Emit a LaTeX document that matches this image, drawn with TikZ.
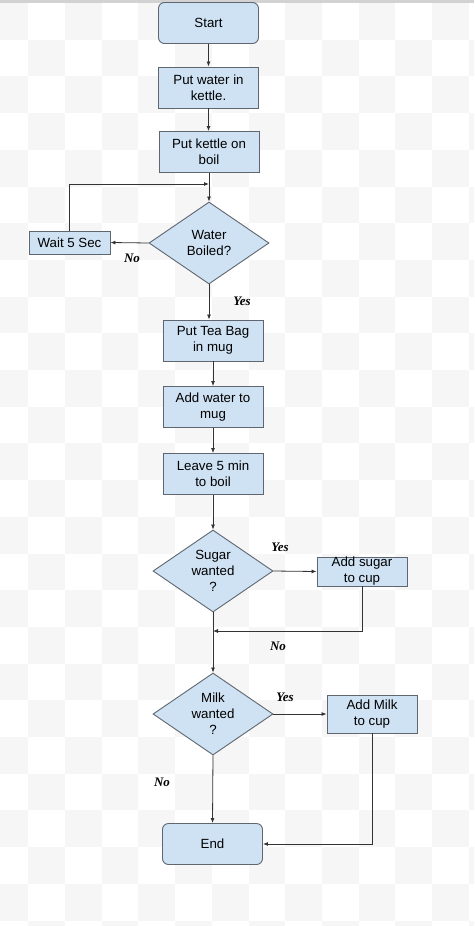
\documentclass[tikz,border=0pt]{standalone}
\usepackage{fontspec}
\setsansfont{Liberation Sans}
\newfontfamily\lblfont{Liberation Serif}
\usetikzlibrary{arrows.meta,shapes.geometric}

\definecolor{boxfill}{HTML}{CFE2F3}
\definecolor{boxline}{HTML}{5F6670}
\definecolor{wire}{HTML}{333333}
\definecolor{checker}{HTML}{F6F6F6}

\tikzset{
	stepbox/.style={draw=boxline, fill=boxfill, line width=0.9pt, minimum width=100pt, minimum height=41pt,
		inner sep=0pt, align=center, font=\sffamily\fontsize{13.3}{16}\selectfont},
	termbox/.style={stepbox, rounded corners=6pt},
	decision/.style={stepbox, diamond, aspect=1.46, minimum width=120pt, minimum height=82pt},
	answer/.style={font=\lblfont\bfseries\itshape\fontsize{13}{15}\selectfont, inner sep=0pt},
	flow/.style={draw=wire, line width=0.8pt, -{Latex[length=5pt,width=4pt]}}
}

\begin{document}
\begin{tikzpicture}[x=1pt,y=-1pt]
		\useasboundingbox (0,0) rectangle (474,926);
		
		% background
		\begin{scope}
			\clip (0,0) rectangle (474,926);
			\foreach \i in {0,...,13}{
				\foreach \j in {0,...,25}{
					\pgfmathtruncatemacro\parity{mod(\i+\j,2)}
					\ifnum\parity=0 \fill[checker] (-8.4+36.7*\i,3+36.7*\j) rectangle ++(36.7,36.7);\fi
				}
			}
			\fill[gray!35] (0,0) rectangle (474,2.5);
		\end{scope}
		
		\node[termbox] (start) at (208.5,23) {Start};
		\node[stepbox] (water) at (208.5,87.5) {Put water in\\kettle.};
		\node[stepbox] (kettle) at (209,152) {Put kettle on\\boil};
		\node[decision] (boiled) at (209,243) {Water\\Boiled?};
		\node[stepbox, minimum width=81pt, minimum height=23pt] (wait) at (69.5,242.5) {Wait 5 Sec};
		\node[stepbox] (teabag) at (213,340.5) {Put Tea Bag\\in mug};
		\node[stepbox] (addwater) at (213,407) {Add water to\\mug};
		\node[stepbox] (leave) at (213,474) {Leave 5 min\\to boil};
		\node[decision] (sugar) at (213,571) {Sugar\\wanted\\?};
		\node[stepbox, minimum width=90pt, minimum height=29pt] (addsugar) at (362,571.5) {Add sugar\\to cup};
		\node[decision] (milk) at (213,714) {Milk\\wanted\\?};
		\node[stepbox, minimum width=90pt, minimum height=38pt] (addmilk) at (372,714) {Add Milk\\to cup};
		\node[termbox] (end) at (212.5,844) {End};
		
		\coordinate (loop) at (209,184);
		\coordinate (merge) at (213,631);
		
		\draw[flow] (start) -- (water);
		\draw[flow] (water) -- (water|-kettle.north);
		\draw[flow] (kettle) -- (boiled);
		\draw[flow] (boiled.west) -- (wait.east);
		\draw[flow] (wait.north) |- (loop);
		\draw[flow] (boiled.south) -- (boiled.south|-teabag.north);
		\draw[flow] (teabag) -- (addwater);
		\draw[flow] (addwater) -- (leave);
		\draw[flow] (leave) -- (sugar);
		\draw[flow] (sugar.east) -- (addsugar.west);
		\draw[flow] (addsugar.south) |- (merge);
		\draw[flow] (sugar.south) -- (milk.north);
		\draw[flow] (milk.east) -- (addmilk.west);
		\draw[flow] (milk.south) -- (end.north);
		\draw[flow] (addmilk.south) |- (end.east);
		
		\node[answer] (nowait) at (132,258) {No};
		\node[answer] (yesboil) at (242,301) {Yes};
		\node[answer] (yessugar) at (280,547) {Yes};
		\node[answer] (nosugar) at (278,646) {No};
		\node[answer] (yesmilk) at (285,697) {Yes};
		\node[answer] (nomilk) at (162,782) {No};
	\end{tikzpicture}
\end{document}
